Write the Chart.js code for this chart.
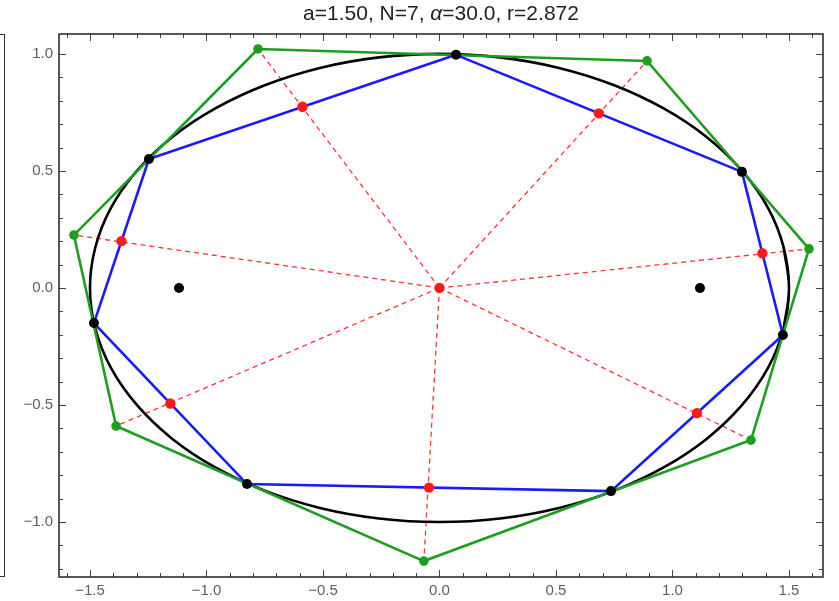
<!DOCTYPE html>
<html>
<head>
<meta charset="utf-8">
<script src="https://cdn.jsdelivr.net/npm/chart.js@4.4.1/dist/chart.umd.min.js"></script>
<style>
  html, body { margin: 0; padding: 0; background: #fff; }
  #wrap { position: relative; width: 839px; height: 601px; overflow: hidden; }
  #title {
    position: absolute; left: 0; width: 882px; top: 1px; text-align: center;
    font: 21px "Liberation Sans", Arial, sans-serif; color: #222;
  }
  #leftFrame {
    position: absolute; left: -20px; top: 34px; width: 23px; height: 541px;
    border: 1.5px solid #333;
  }
</style>
</head>
<body>
<div id="wrap">
  <div id="leftFrame"></div>
  <canvas id="chart" width="839" height="601"></canvas>
  <div id="title">a=1.50, N=7, <i>α</i>=30.0, r=2.872</div>
</div>
<script>
// Sommets du polygone inscrit (points noirs sur l'ellipse)
const polyX = [0.071, 1.298, 1.474, 0.736, -0.826, -1.483, -1.247];
const polyY = [0.996, 0.496, -0.201, -0.868, -0.838, -0.150, 0.551];

// Sommets du polygone tangent (vert)
const tanX = [-0.779, 0.891, 1.586, 1.337, -0.067, -1.388, -1.569];
const tanY = [1.021, 0.970, 0.167, -0.650, -1.167, -0.590, 0.226];

// Milieux des côtés (points rouges) + centre
const midX = [0.684, 1.386, 1.105, -0.045, -1.155, -1.365, -0.588, 0];
const midY = [0.746, 0.148, -0.535, -0.853, -0.494, 0.200, 0.774, 0];

// Foyers
const fociX = [-1.118, 1.118];
const fociY = [0, 0];

// Ellipse (points lus, pas de 10 degrés, avec recouvrement aux bouts)
const ellX = [1.477, 1.5, 1.477, 1.410, 1.299, 1.149, 0.964, 0.75, 0.513, 0.260, 0,
  -0.260, -0.513, -0.75, -0.964, -1.149, -1.299, -1.410, -1.477, -1.5,
  -1.477, -1.410, -1.299, -1.149, -0.964, -0.75, -0.513, -0.260, 0,
  0.260, 0.513, 0.75, 0.964, 1.149, 1.299, 1.410, 1.477, 1.5, 1.477];
const ellY = [-0.174, 0, 0.174, 0.342, 0.5, 0.643, 0.766, 0.866, 0.940, 0.985, 1,
  0.985, 0.940, 0.866, 0.766, 0.643, 0.5, 0.342, 0.174, 0,
  -0.174, -0.342, -0.5, -0.643, -0.766, -0.866, -0.940, -0.985, -1,
  -0.985, -0.940, -0.866, -0.766, -0.643, -0.5, -0.342, -0.174, 0, 0.174];

// Graduations
const xTicks = [-1.5, -1.0, -0.5, 0.0, 0.5, 1.0, 1.5];
const yTicks = [-1.0, -0.5, 0.0, 0.5, 1.0];

const pts = (xs, ys) => xs.map((x, i) => ({ x: x, y: ys[i] }));
const closed = (xs, ys) => { const p = pts(xs, ys); p.push(p[0]); return p; };

// rayons du centre vers les sommets verts, séparés par des trous
const rays = [];
tanX.forEach((x, i) => {
  rays.push({ x: 0, y: 0 }, { x: x, y: tanY[i] }, { x: 0, y: null });
});

const fmt = v => {
  const s = Math.abs(v).toFixed(1);
  return v < -1e-9 ? '\u2212' + s : s;
};

// petits traits de graduation vers l'intérieur sur les 4 côtés
const frameTicks = {
  id: 'frameTicks',
  afterDraw(chart) {
    const { ctx, chartArea: a, scales } = chart;
    const xs = scales.x, ys = scales.y;
    ctx.save();
    ctx.strokeStyle = '#444';
    ctx.lineWidth = 1;
    ctx.beginPath();
    for (let k = -16; k <= 16; k++) {
      const v = k / 10;
      const major = k % 5 === 0;
      const len = major ? 7 : 4;
      const px = Math.round(xs.getPixelForValue(v)) + 0.5;
      if (px > a.left && px < a.right) {
        ctx.moveTo(px, a.bottom); ctx.lineTo(px, a.bottom - len);
        ctx.moveTo(px, a.top); ctx.lineTo(px, a.top + len);
      }
    }
    for (let k = -12; k <= 10; k++) {
      const v = k / 10;
      const major = k % 5 === 0;
      const len = major ? 7 : 4;
      const py = Math.round(ys.getPixelForValue(v)) + 0.5;
      if (py > a.top && py < a.bottom) {
        ctx.moveTo(a.left, py); ctx.lineTo(a.left + len, py);
        ctx.moveTo(a.right, py); ctx.lineTo(a.right - len, py);
      }
    }
    ctx.stroke();
    ctx.strokeStyle = '#222';
    ctx.lineWidth = 1.5;
    ctx.strokeRect(a.left, a.top, a.right - a.left, a.bottom - a.top);
    ctx.restore();
  }
};

const ctx = document.getElementById('chart').getContext('2d');
new Chart(ctx, {
  type: 'scatter',
  data: {
    datasets: [
      {
        data: rays, showLine: true, spanGaps: false, order: 9,
        borderColor: '#ff3333', borderWidth: 1.3, borderDash: [5, 4],
        pointRadius: 0
      },
      {
        data: pts(ellX, ellY), showLine: true, order: 8,
        borderColor: '#000', borderWidth: 2.6, tension: 0.4,
        pointRadius: 0
      },
      {
        data: closed(tanX, tanY), showLine: true, order: 7,
        borderColor: '#1e9e1e', borderWidth: 2.6, pointRadius: 0
      },
      {
        data: closed(polyX, polyY), showLine: true, order: 6,
        borderColor: '#1a1aff', borderWidth: 2.6, pointRadius: 0
      },
      {
        data: pts(tanX, tanY), order: 3,
        pointRadius: 4.8, pointBackgroundColor: '#1e9e1e', pointBorderWidth: 0
      },
      {
        data: pts(midX, midY), order: 2,
        pointRadius: 5.2, pointBackgroundColor: '#ff1a1a', pointBorderWidth: 0
      },
      {
        data: pts(polyX, polyY).concat(pts(fociX, fociY)), order: 1,
        pointRadius: 5, pointBackgroundColor: '#000', pointBorderWidth: 0
      }
    ]
  },
  options: {
    responsive: false,
    animation: false,
    layout: { padding: { top: 34, right: 16, left: 0, bottom: 0 } },
    plugins: { legend: { display: false }, tooltip: { enabled: false } },
    scales: {
      x: {
        type: 'linear', min: -1.633, max: 1.646,
        afterBuildTicks: s => { s.ticks = xTicks.map(v => ({ value: v })); },
        afterFit: s => { s.height = 24; },
        grid: { display: false, drawTicks: false },
        border: { display: false },
        ticks: {
          padding: 5, color: '#606060', maxRotation: 0,
          font: { family: '"Liberation Sans", Arial, sans-serif', size: 15 },
          callback: v => fmt(v)
        }
      },
      y: {
        type: 'linear', min: -1.235, max: 1.085,
        afterBuildTicks: s => { s.ticks = yTicks.map(v => ({ value: v })); },
        afterFit: s => { s.width = 59; },
        grid: { display: false, drawTicks: false },
        border: { display: false },
        ticks: {
          padding: 6, color: '#606060',
          font: { family: '"Liberation Sans", Arial, sans-serif', size: 15 },
          callback: v => fmt(v)
        }
      }
    }
  },
  plugins: [frameTicks]
});
</script>
</body>
</html>
